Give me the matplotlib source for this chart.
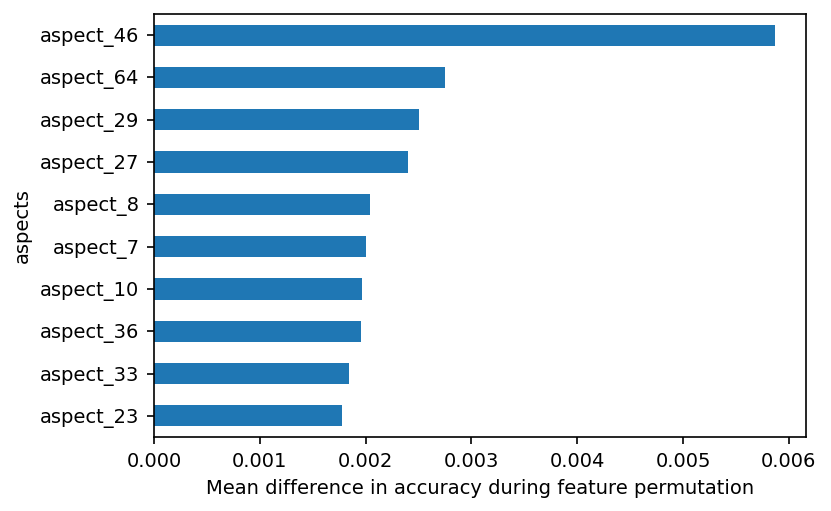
import matplotlib
matplotlib.use("Agg")
import matplotlib.pyplot as plt

aspects = ["aspect_23", "aspect_33", "aspect_36", "aspect_10", "aspect_7",
           "aspect_8", "aspect_27", "aspect_29", "aspect_64", "aspect_46"]
values = [0.001779, 0.001844, 0.001959, 0.001967, 0.002004,
          0.002037, 0.002402, 0.002500, 0.002750, 0.005869]

plt.rcParams["font.size"] = 9.35
fig = plt.figure(figsize=(831/150, 511/150), dpi=150)
ax = fig.add_axes([154/831, 1-437/511, (806-154)/831, (437-14)/511])
ax.barh(range(len(aspects)), values, height=0.5, color="#1f77b4")
ax.set_yticks(range(len(aspects)))
ax.set_yticklabels(aspects)
ax.set_ylim(-0.5, len(aspects) - 0.5)
ax.set_xlim(0, max(values) * 1.05)
ax.set_ylabel("aspects")
ax.set_xlabel("Mean difference in accuracy during feature permutation")
fig.savefig("out.png", dpi=150)
